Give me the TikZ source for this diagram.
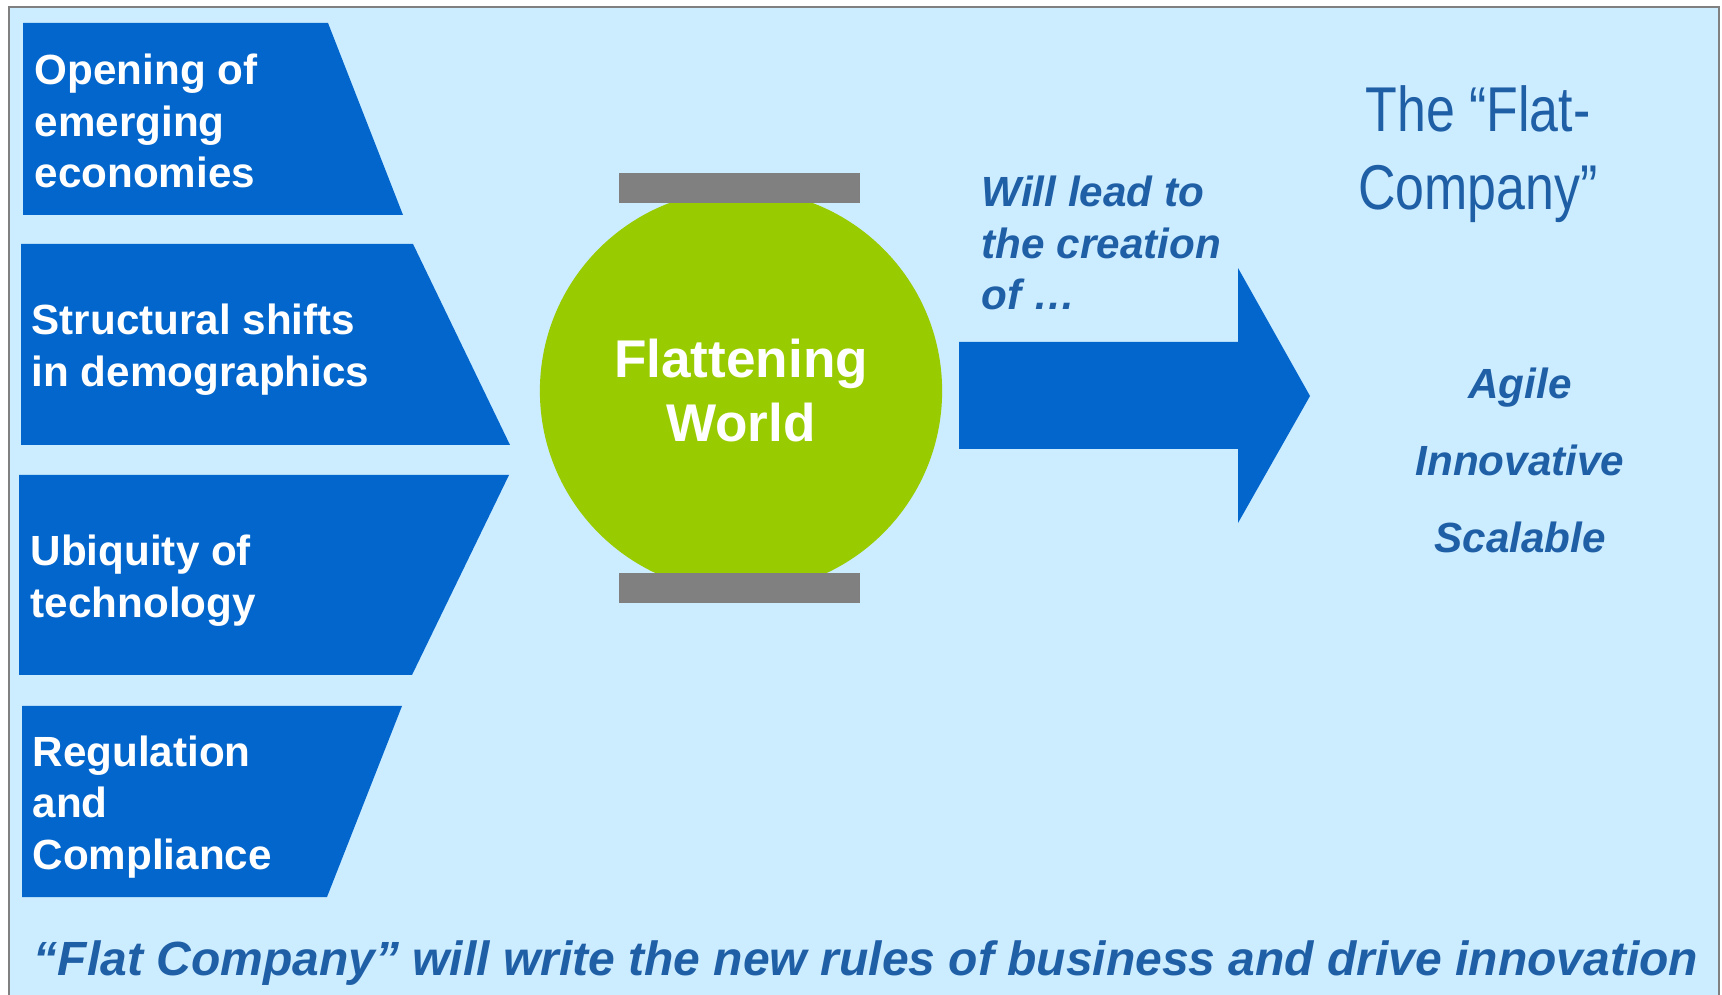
\documentclass[tikz,border=0pt]{standalone}
\usepackage{fontspec}
\setmainfont{Liberation Sans}
\newfontfamily\narrowfont[FakeStretch=0.82]{Liberation Sans}
\usetikzlibrary{positioning}

\definecolor{skyback}{HTML}{CCECFF}
\definecolor{boxblue}{HTML}{0366CC}
\definecolor{worldgreen}{HTML}{99CC00}
\definecolor{bargray}{HTML}{808080}
\definecolor{textblue}{HTML}{1F5FA6}

\begin{document}
\begin{tikzpicture}[x=0.01cm, y=-0.01cm,
    factor/.style={anchor=west, align=left, text=white, inner sep=0pt, font=\bfseries\fontsize{12}{14.7}\selectfont},
    world/.style={circle, fill=worldgreen, minimum size=4.02cm, inner sep=0pt, align=center, text=white, font=\bfseries\fontsize{15.1}{18.2}\selectfont},
    bar/.style={rectangle, fill=bargray, minimum width=2.41cm, minimum height=0.3cm, inner sep=0pt},
    lead/.style={anchor=west, align=left, text=textblue, inner sep=0pt, font=\bfseries\itshape\fontsize{12}{14.7}\selectfont},
    trait/.style={anchor=base, text=textblue, inner sep=0pt, font=\bfseries\itshape\fontsize{12}{14.7}\selectfont},
    headline/.style={align=center, text=textblue, inner sep=0pt, font=\narrowfont\fontsize{18}{22}\selectfont}
]
\useasboundingbox (0,0) rectangle (1722,995);
\fill[white] (0,0) rectangle (1722,995);
\filldraw[fill=skyback, draw=gray, line width=0.6pt] (9,7) rectangle (1719,1010);

% driving forces
\fill[boxblue] (23,23) -- (328,23) -- (403,215) -- (23,215) -- cycle;
\fill[boxblue] (21,244) -- (413,244) -- (510,445) -- (21,445) -- cycle;
\fill[boxblue] (19,475) -- (509,475) -- (412,675) -- (19,675) -- cycle;
\fill[boxblue] (22,706) -- (402,706) -- (327,897) -- (22,897) -- cycle;

\node (opening) [factor] at (34,121) {Opening of\\emerging\\economies};
\node (shifts) [factor] at (31,350) {Structural shifts\\in demographics};
\node (ubiquity) [factor] at (30,581) {Ubiquity of\\technology};
\node (regulation) [factor] at (32,807) {Regulation\\and\\Compliance};

% flattening world
\node (globe) [world] at (741,391) {Flattening\\World};
\node (topbar) [bar] at (739.5,188) {};
\node (botbar) [bar] at (739.5,588) {};

% arrow to the flat company
\fill[boxblue] (959,342) -- (1238,342) -- (1238,268) -- (1310,396) -- (1238,523) -- (1238,449) -- (959,449) -- cycle;
\node (leadto) [lead] at (981,243) {Will lead to\\the creation\\of …};

\node (flatco) [headline] at (1478,154) {The “Flat-\\Company”};
\node (agile) [trait] at (1520,399) {Agile};
\node (innovative) [trait] at (1520,476) {Innovative};
\node (scalable) [trait] at (1520,553) {Scalable};

\node (motto) [anchor=base, text=textblue, inner sep=0pt, font=\bfseries\itshape\fontsize{13.65}{16}\selectfont] at (866,975) {“Flat Company” will write the new rules of business and drive innovation};
\end{tikzpicture}
\end{document}
